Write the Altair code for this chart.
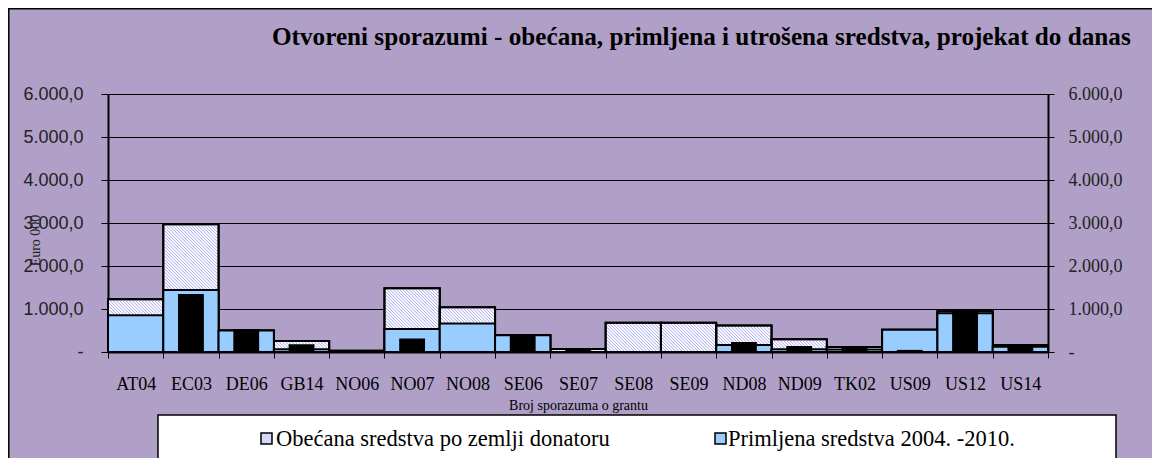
import altair as alt
import pandas as pd

# ---------------- data ----------------
categories = ["AT04", "EC03", "DE06", "GB14", "NO06", "NO07", "NO08", "SE06", "SE07",
              "SE08", "SE09", "ND08", "ND09", "TK02", "US09", "US12", "US14"]
promised = [1224, 2970, 500, 256, 30, 1480, 1040, 390, 70, 680, 680, 616, 296, 115, 520, 950, 160]
received = [856, 1440, 500, 64, 20, 536, 664, 390, 0, 0, 0, 160, 64, 60, 520, 900, 120]
spent = [0, 1330, 515, 160, 25, 296, 0, 400, 70, 0, 0, 216, 120, 115, 32, 950, 165]

title_text = "Otvoreni sporazumi - obećana, primljena i utrošena sredstva, projekat do danas"
y_title = "Euro 000"
x_title = "Broj sporazuma o grantu"
legend_labels = ["Obećana sredstva po zemlji donatoru", "Primljena sredstva 2004. -2010."]

# ---------------- layout / style ----------------
W, H = 940, 258
YMAX = 6000
N = len(categories)
BG = "#B0A0C8"
BLUE = "#99CCFF"
HATCH = "#A6A6F2"
SERIF = "Liberation Serif"
SANS = "Liberation Sans"

df = pd.DataFrame({"cat": categories, "promised": promised,
                   "received": received, "spent": spent})

# hatch texture for the visible part of the "promised" bars (received..promised)
bw = W / N
hatch_rows = []
step = 3.2
for i, (p, r) in enumerate(zip(promised, received)):
    if p <= r:
        continue
    x0, x1 = i * bw + 1, (i + 1) * bw - 1
    yt = H - p / YMAX * H + 1
    yb = H - r / YMAX * H - (1 if r > 0 else 0)
    if yb - yt < 0.5:
        continue
    c = (int((yt - x1) // step) - 1) * step
    while c <= yb - x0:
        xa = max(x0, yt - c)
        xb = min(x1, yb - c)
        if xb - xa > 0.3:
            hatch_rows.append({"x": xa / bw, "x2": xb / bw,
                               "y": (H - (xa + c)) / H * YMAX,
                               "y2": (H - (xb + c)) / H * YMAX})
        c += step
hatch_df = pd.DataFrame(hatch_rows)

xscale = alt.Scale(domain=categories, paddingInner=0, paddingOuter=0)
yscale = alt.Scale(domain=[0, YMAX], nice=False, zero=True)
yvals = list(range(0, YMAX + 1, 1000))

label_expr = ("datum.value == 0 ? '-' : replace(replace(replace(format(datum.value, ',.1f'), ',', '#'), '.', ','), '#', '.')")

base = alt.Chart(df)

promised_fill = base.mark_bar(fill="white", stroke="black", strokeWidth=2).encode(
    x=alt.X("cat:N", scale=xscale, sort=categories,
            axis=alt.Axis(title=x_title, labelAngle=0, tickBand="extent", tickSize=6,
                          tickColor="black", tickWidth=1, domainColor="black", domainWidth=2,
                          labelFont=SERIF, labelFontSize=18, labelColor="black",
                          labelPadding=17, labelBaseline="top", titleFont=SERIF, titleFontSize=14,
                          titleFontWeight="normal", titleColor="black", titleY=53,
                          titleBaseline="middle", grid=False)),
    y=alt.Y("promised:Q", scale=yscale,
            axis=alt.Axis(title=y_title, orient="left", values=yvals, labelExpr=label_expr,
                          grid=True, gridColor="black", gridWidth=1, gridOpacity=1,
                          tickSize=7, tickColor="black", domainColor="black", domainWidth=2,
                          labelFont=SANS, labelFontSize=18, labelColor="#222222",
                          labelPadding=18, titleFont=SERIF, titleFontSize=14,
                          titleFontWeight="normal", titleColor="#222222", titleX=-73,
                          titleY=146, titleAngle=270, titleBaseline="middle",
                          titleAlign="center")),
)

hatch = alt.Chart(hatch_df).mark_rule(stroke=HATCH, strokeWidth=1).encode(
    x=alt.X("x:Q", scale=alt.Scale(domain=[0, N], nice=False, zero=False), axis=None),
    x2="x2:Q",
    y=alt.Y("y:Q", scale=yscale, axis=None),
    y2="y2:Q",
)

promised_outline = base.mark_bar(fillOpacity=0, stroke="black", strokeWidth=2).encode(
    x=alt.X("cat:N", scale=xscale, sort=categories, axis=None),
    y=alt.Y("promised:Q", scale=yscale, axis=None),
)

received_bar = base.transform_filter("datum.received > 0").mark_bar(
    fill=BLUE, stroke="black", strokeWidth=2).encode(
    x=alt.X("cat:N", scale=xscale, sort=categories, axis=None),
    y=alt.Y("received:Q", scale=yscale, axis=None),
)

spent_bar = base.transform_filter("datum.spent > 0").mark_bar(
    fill="black", stroke="black", strokeWidth=1.5,
    width=alt.RelativeBandSize(0.44)).encode(
    x=alt.X("cat:N", scale=xscale, sort=categories, axis=None),
    y=alt.Y("spent:Q", scale=yscale,
            axis=alt.Axis(title=None, orient="right", values=yvals, labelExpr=label_expr,
                          grid=False, tickSize=6, tickColor="black", domainColor="black",
                          domainWidth=2, labelFont=SERIF, labelFontSize=18,
                          labelColor="#222222", labelPadding=14)),
)

# title
title_layer = alt.Chart(alt.Data(values=[{"t": title_text}])).mark_text(
    font=SERIF, fontSize=25.2, fontWeight="bold", align="left", baseline="alphabetic",
    color="black").encode(text="t:N", x=alt.value(164), y=alt.value(-49))

# outer frame (left and top)
frame_left = alt.Chart(alt.Data(values=[{}])).mark_rule(stroke="black", strokeWidth=1.5).encode(
    x=alt.value(-99.2), y=alt.value(-86), y2=alt.value(380))
frame_top = alt.Chart(alt.Data(values=[{}])).mark_rule(stroke="black", strokeWidth=1.5).encode(
    x=alt.value(-100), x2=alt.value(1060), y=alt.value(-85.2))

# legend box
legend_box = alt.Chart(alt.Data(values=[{}])).mark_rect(
    fill="white", stroke="black", strokeWidth=1.5).encode(
    x=alt.value(50), x2=alt.value(1008), y=alt.value(321), y2=alt.value(366))

pix = alt.Scale(domain=[0, W], range=[0, W], zero=False, nice=False)

legend_sq = alt.Chart(alt.Data(values=[{"x": 158.5, "c": "#D6D6F6"}, {"x": 612.5, "c": BLUE}])).mark_rect(
    stroke="black", strokeWidth=1.5, width=11, height=11).encode(
    x=alt.X("x:Q", scale=pix, axis=None),
    fill=alt.Fill("c:N", scale=None),
    y=alt.value(344.5),
)

legend_txt = alt.Chart(alt.Data(values=[{"x": 168, "t": legend_labels[0]},
                                        {"x": 620, "t": legend_labels[1]}])).mark_text(
    font=SERIF, fontSize=22.5, align="left", baseline="middle", color="black").encode(
    x=alt.X("x:Q", scale=pix, axis=None),
    y=alt.value(345), text="t:N")

chart = alt.layer(
    promised_fill, hatch, promised_outline, received_bar, spent_bar,
    title_layer, frame_left, frame_top, legend_box, legend_sq, legend_txt
).resolve_scale(x="independent").resolve_axis(y="independent").properties(
    width=W, height=H,
    autosize=alt.AutoSizeParams(type="none"),
    padding={"left": 100, "top": 86, "right": 104, "bottom": 106},
    background=BG,
).configure_view(strokeOpacity=0)

chart.save("out.html", embed_options={"renderer": "svg", "actions": False})
